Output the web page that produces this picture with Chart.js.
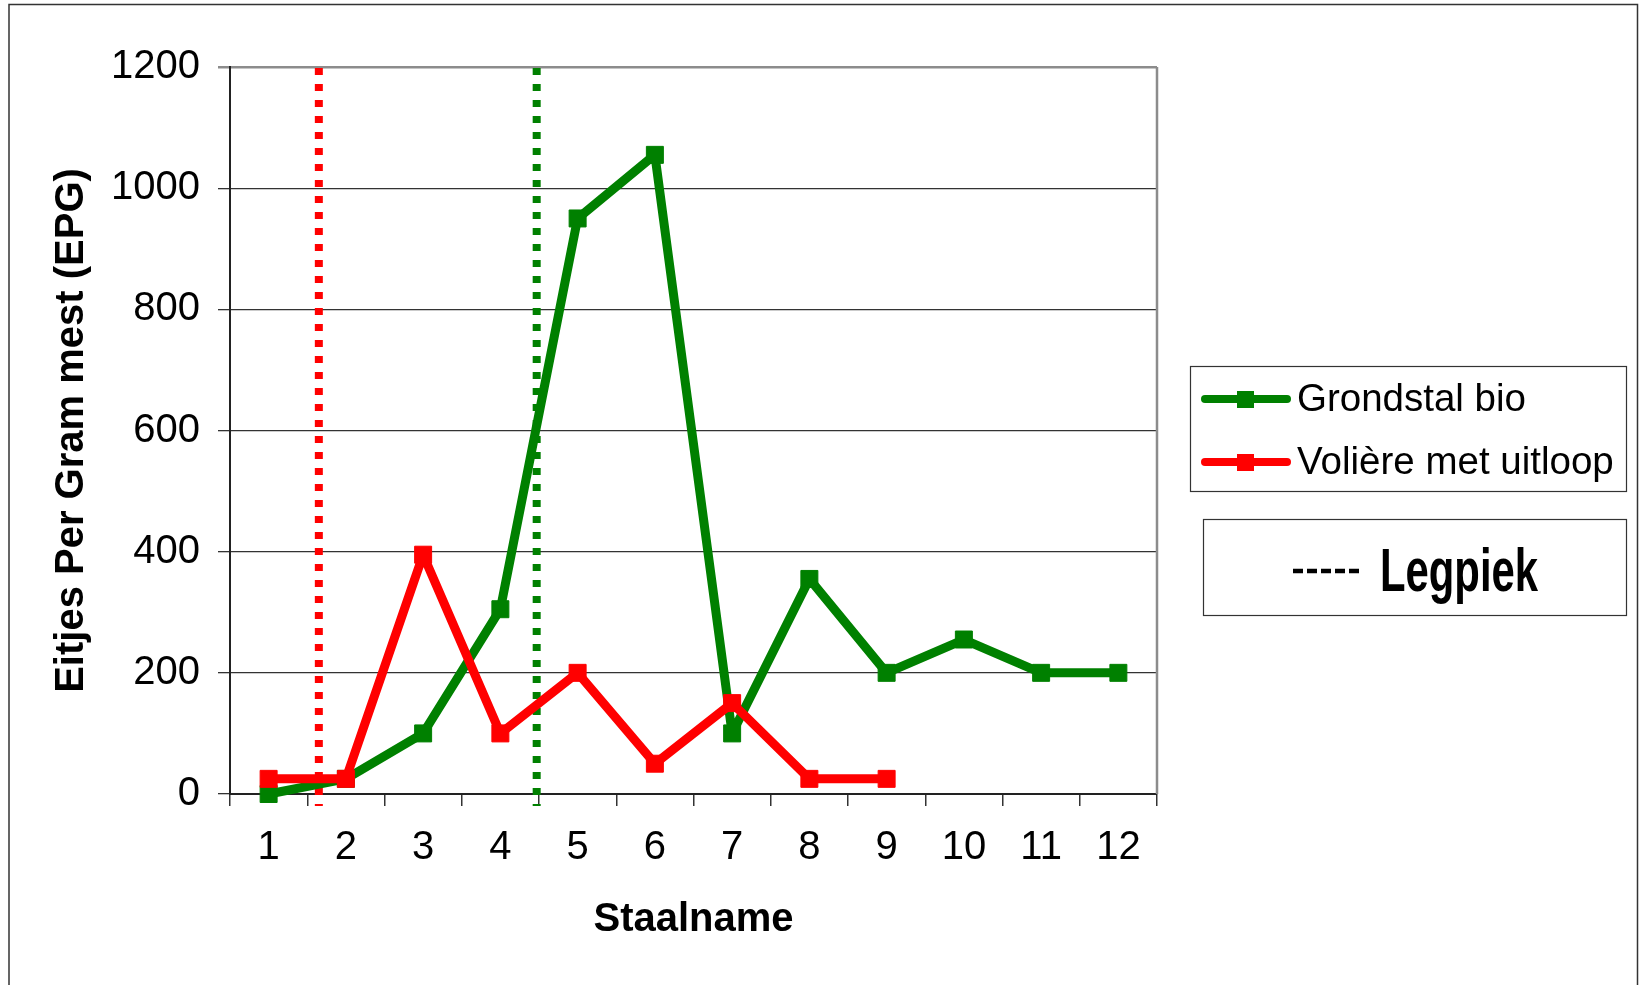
<!DOCTYPE html>
<html>
<head>
<meta charset="utf-8">
<script src="https://cdn.jsdelivr.net/npm/chart.js@4"></script>
<style>
  html, body { margin: 0; padding: 0; background: #fff; }
  canvas { display: block; }
</style>
</head>
<body>
<canvas id="myChart" width="1642" height="985"></canvas>
<script>
// Sample numbers (x axis)
const labels = ['1', '2', '3', '4', '5', '6', '7', '8', '9', '10', '11', '12'];

// Eggs per gram for each housing type
const grondstalValues = [0, 25, 100, 305, 950, 1055, 100, 355, 200, 255, 200, 200];
const volièreValues = [25, 25, 395, 100, 200, 50, 150, 25, 25];

// Laying peak (Legpiek) position on the sample axis, one per series
const legpiekPositions = [1.65, 4.47];
const legpiekColors = ['#ff0000', '#008000'];

// Y axis ticks
const yTicks = [0, 200, 400, 600, 800, 1000, 1200];

const font = '"Liberation Sans", Arial, sans-serif';

// White background and the outer frame
const framePlugin = {
    id: 'frame',
    beforeDraw(chart) {
        const ctx = chart.ctx;
        ctx.save();
        ctx.fillStyle = '#fff';
        ctx.fillRect(0, 0, chart.width, chart.height);
        ctx.strokeStyle = '#333';
        ctx.lineWidth = 1.5;
        ctx.strokeRect(9, 4.5, 1628.5, 1000);
        ctx.restore();
    }
};

// Dotted vertical lines for the laying peaks
const legpiekPlugin = {
    id: 'legpiek',
    beforeDatasetsDraw(chart) {
        const ctx = chart.ctx;
        const x = chart.scales.x;
        const area = chart.chartArea;
        ctx.save();
        ctx.lineWidth = 8;
        ctx.setLineDash([7, 9]);
        legpiekPositions.forEach((pos, i) => {
            const px = x.getPixelForValue(pos - 1);
            ctx.strokeStyle = legpiekColors[i];
            ctx.beginPath();
            ctx.moveTo(px, area.top + 1);
            ctx.lineTo(px, area.bottom + 12);
            ctx.stroke();
        });
        ctx.restore();
    }
};

// Grey right border of the plot area, legend boxes
const legendPlugin = {
    id: 'boxLegend',
    afterDraw(chart) {
        const ctx = chart.ctx;
        const area = chart.chartArea;
        ctx.save();

        ctx.strokeStyle = '#8c8c8c';
        ctx.lineWidth = 2.5;
        ctx.beginPath();
        ctx.moveTo(area.right, area.top);
        ctx.lineTo(area.right, area.bottom);
        ctx.stroke();

        // series legend
        ctx.strokeStyle = '#333';
        ctx.lineWidth = 1.2;
        ctx.strokeRect(1190.5, 366.5, 436, 125);

        const items = chart.data.datasets;
        const rows = [399, 462];
        items.forEach((ds, i) => {
            const y = rows[i];
            ctx.strokeStyle = ds.borderColor;
            ctx.lineWidth = 8;
            ctx.lineCap = 'round';
            ctx.beginPath();
            ctx.moveTo(1205, y);
            ctx.lineTo(1287, y);
            ctx.stroke();
            ctx.fillStyle = ds.borderColor;
            ctx.fillRect(1237, y - 8, 17, 17);
            ctx.fillStyle = '#000';
            ctx.font = '38.5px ' + font;
            ctx.textBaseline = 'middle';
            ctx.textAlign = 'left';
            ctx.fillText(ds.label, 1297, y + 1);
        });

        // laying peak box
        ctx.strokeStyle = '#333';
        ctx.lineWidth = 1.2;
        ctx.strokeRect(1203.5, 519.5, 423, 96);
        ctx.strokeStyle = '#000';
        ctx.lineWidth = 4.5;
        ctx.lineCap = 'butt';
        ctx.setLineDash([10, 4]);
        ctx.beginPath();
        ctx.moveTo(1293, 571);
        ctx.lineTo(1359, 571);
        ctx.stroke();
        ctx.setLineDash([]);

        ctx.font = 'bold 61px ' + font;
        ctx.textBaseline = 'alphabetic';
        const w = ctx.measureText('Legpiek').width;
        ctx.translate(1380, 591);
        ctx.scale(158 / w, 1);
        ctx.fillStyle = '#000';
        ctx.fillText('Legpiek', 0, 0);

        ctx.restore();
    }
};

const ctx = document.getElementById('myChart').getContext('2d');

const myChart = new Chart(ctx, {
    type: 'line',
    data: {
        labels: labels,
        datasets: [
            {
                label: 'Grondstal bio',
                data: grondstalValues,
                borderColor: '#008000',
                backgroundColor: '#008000',
                borderWidth: 9,
                borderJoinStyle: 'round',
                pointStyle: 'rect',
                pointRadius: 12,
                pointBorderWidth: 1,
                tension: 0,
                clip: false,
                order: 2
            },
            {
                label: 'Volière met uitloop',
                data: volièreValues,
                borderColor: '#ff0000',
                backgroundColor: '#ff0000',
                borderWidth: 9,
                borderJoinStyle: 'round',
                pointStyle: 'rect',
                pointRadius: 12,
                pointBorderWidth: 1,
                tension: 0,
                clip: false,
                order: 1
            }
        ]
    },
    options: {
        responsive: false,
        animation: false,
        layout: {
            padding: { left: 10, right: 485, top: 67, bottom: 0 }
        },
        plugins: {
            legend: { display: false },
            tooltip: { enabled: false }
        },
        scales: {
            x: {
                offset: true,
                grid: {
                    offset: true,
                    drawOnChartArea: false,
                    tickLength: 12,
                    color: '#333',
                    lineWidth: 1.5
                },
                border: { color: '#222', width: 2 },
                ticks: {
                    color: '#000',
                    padding: 18,
                    maxRotation: 0,
                    font: { family: font, size: 40 }
                },
                title: {
                    display: true,
                    text: 'Staalname',
                    color: '#000',
                    font: { family: font, size: 40, weight: 'bold' },
                    padding: { top: 0, bottom: 41 }
                },
                afterFit: (scale) => { scale.height = 191; }
            },
            y: {
                min: 0,
                max: 1200,
                afterBuildTicks: (scale) => {
                    scale.ticks = yTicks.map((v) => ({ value: v }));
                },
                grid: {
                    tickLength: 12,
                    color: (c) => (c.tick && c.tick.value === 1200 ? '#8c8c8c' : '#333'),
                    lineWidth: (c) => (c.tick && c.tick.value === 1200 ? 2.5 : 1.3)
                },
                border: { color: '#222', width: 2 },
                ticks: {
                    color: '#000',
                    padding: 18,
                    font: { family: font, size: 40 },
                    callback: (value) => String(value)
                },
                title: {
                    display: true,
                    text: 'Eitjes Per Gram mest (EPG)',
                    color: '#000',
                    font: { family: font, size: 40, weight: 'bold' },
                    padding: { top: 38, bottom: 0 }
                },
                afterFit: (scale) => { scale.width = 220; }
            }
        }
    },
    plugins: [framePlugin, legpiekPlugin, legendPlugin]
});
</script>
</body>
</html>
